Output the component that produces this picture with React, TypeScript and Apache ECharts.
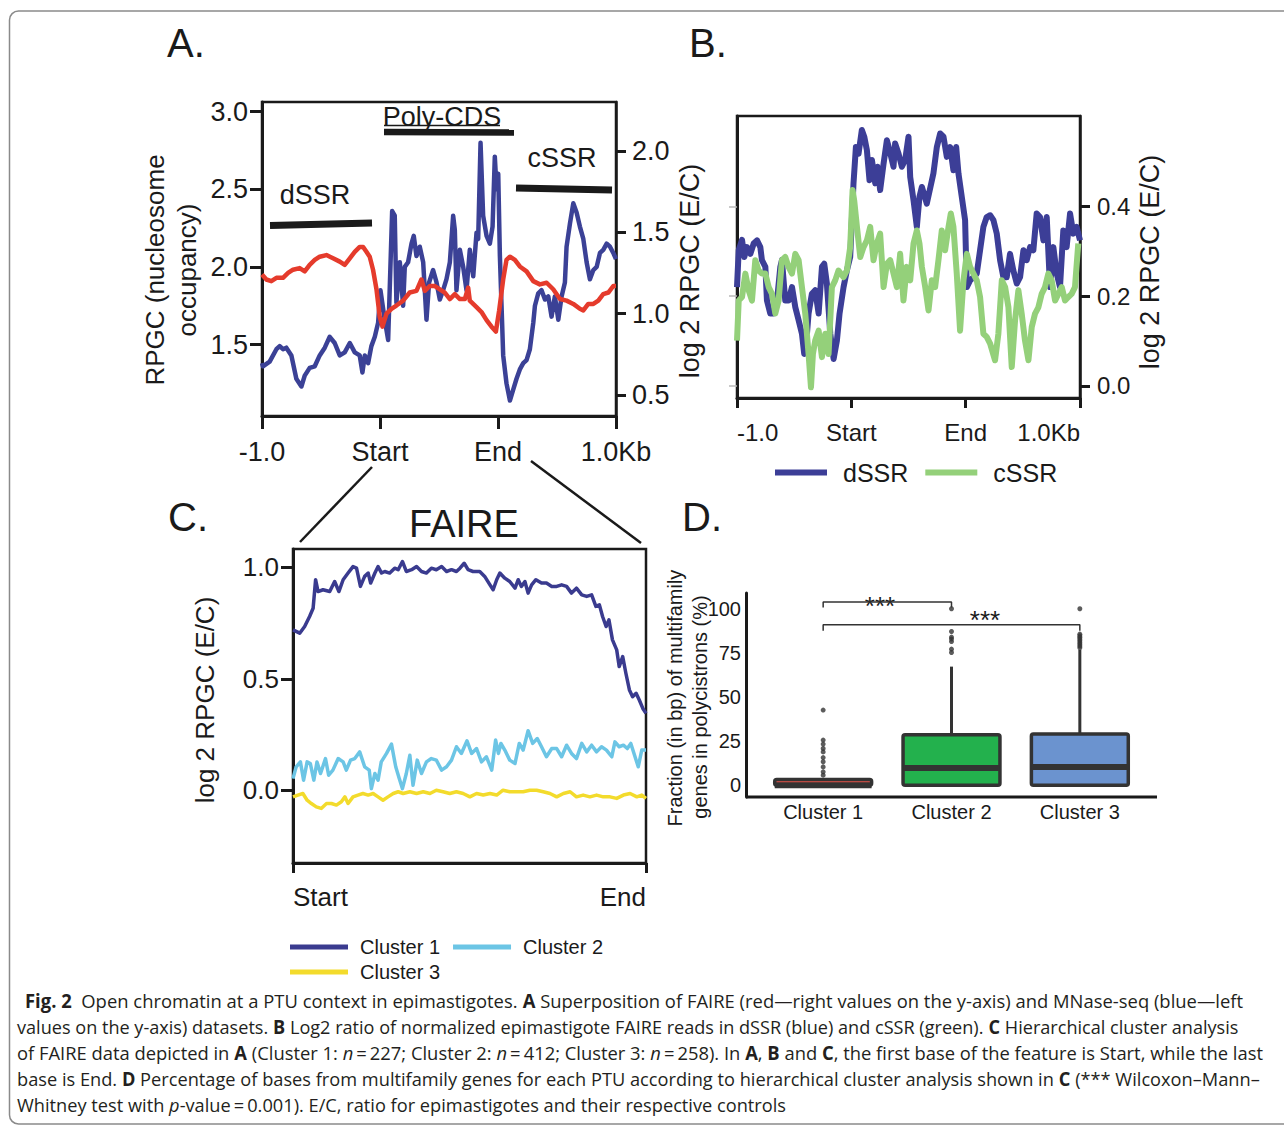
import React, { useEffect, useRef } from 'react';
import * as echarts from 'echarts';

const FONT = '"Liberation Sans", Arial, Helvetica, sans-serif';
const CAP_FONT = '"Open Sans", "Noto Sans", sans-serif';
const INK = '#1a1a1a';

// ---------- Panel A ----------
const xTickLabelsA = ['-1.0', 'Start', 'End', '1.0Kb'];
const leftTicksA = [1.5, 2.0, 2.5, 3.0];
const rightTicksA = [0.5, 1.0, 1.5, 2.0];
const mnaseA = [
  [0, 1.38], [0.8, 1.36], [6.5, 1.39], [12.2, 1.47], [15, 1.49], [17.8, 1.47], [20.6, 1.48], [24.9, 1.43],
  [29.1, 1.28], [33.4, 1.23], [36.2, 1.30], [40.4, 1.35], [44.7, 1.36], [48.9, 1.43], [53.2, 1.48], [57.4, 1.55],
  [61.6, 1.51], [65.9, 1.43], [70.1, 1.45], [74.4, 1.51], [78.6, 1.45], [82.8, 1.43], [85.1, 1.32], [87.1, 1.43],
  [89.9, 1.38], [92.7, 1.49], [95.6, 1.55], [98.4, 1.64], [100.4, 1.85], [104, 1.66], [106.9, 1.53], [110.3, 2.36],
  [112.5, 2.33], [113.9, 1.77], [116.8, 2.03], [119.6, 1.75], [121, 2.0], [123.8, 2.03], [126.7, 2.15], [128.6, 2.2],
  [130.9, 2.07], [133.7, 2.13], [136.6, 2.03], [139.4, 1.66], [141.6, 1.9], [145, 1.98], [147.9, 1.9], [150.7, 1.79],
  [153.5, 1.85], [156.3, 1.92], [159.2, 2.03], [162, 2.33], [163.4, 2.24], [164.8, 1.85], [167.7, 2.11], [170.5, 2.0],
  [173.3, 1.85], [176.1, 2.11], [179, 1.94], [181.8, 2.22], [183.2, 2.18], [185.2, 2.8], [187.4, 2.33], [190.3, 2.2],
  [193.1, 2.15], [195.4, 2.26], [197.3, 2.71], [198.8, 2.5], [200.2, 2.6], [201.6, 2.07], [203, 1.75], [204.4, 1.43],
  [207.2, 1.25], [210.1, 1.14], [212.9, 1.21], [215.7, 1.28], [218.5, 1.34], [221.4, 1.38], [224.2, 1.4], [227, 1.47],
  [229.9, 1.64], [231.3, 1.75], [234.1, 1.83], [236.9, 1.85], [239.8, 1.79], [242.6, 1.81], [245.4, 1.68], [248.2, 1.81],
  [251.1, 1.66], [253.9, 1.81], [256.7, 1.9], [258.1, 2.13], [261, 2.28], [263.8, 2.41], [266.6, 2.35], [269.4, 2.26],
  [272.3, 2.18], [275.1, 2.03], [277.9, 1.92], [280.8, 1.98], [283.6, 2.0], [286.4, 2.09], [289.2, 2.11], [292.1, 2.15],
  [294.9, 2.13], [297.7, 2.09], [300, 2.05],
];
const faireA = [
  [0, 1.24], [3.7, 1.21], [7.9, 1.2], [12.2, 1.22], [17.8, 1.22], [22.1, 1.25], [26.3, 1.27], [31.9, 1.28],
  [36.2, 1.26], [40.4, 1.3], [44.7, 1.33], [48.9, 1.35], [54.6, 1.36], [60.2, 1.34], [65.9, 1.32], [70.1, 1.3],
  [74.4, 1.34], [78.6, 1.38], [82.8, 1.41], [85.7, 1.41], [88.5, 1.38], [91.3, 1.35], [94.1, 1.27], [97, 1.15],
  [99.8, 0.98], [102.1, 0.92], [105.5, 1.0], [109.7, 1.03], [113.9, 1.05], [119.6, 1.08], [125.2, 1.13], [130.9, 1.14],
  [135.1, 1.21], [138, 1.14], [142.2, 1.17], [146.5, 1.17], [150.7, 1.15], [154.9, 1.13], [159.2, 1.09], [163.4, 1.12],
  [167.7, 1.09], [171.9, 1.09], [174.7, 1.16], [176.1, 1.08], [181.8, 1.04], [186, 1.01], [190.3, 0.96], [194.5, 0.92],
  [198.2, 0.89], [201, 1.02], [204.4, 1.21], [207.2, 1.33], [210.1, 1.35], [214.3, 1.33], [218.5, 1.29], [224.2, 1.26],
  [229.9, 1.2], [235.5, 1.18], [241.2, 1.19], [246.8, 1.15], [252.5, 1.09], [258.1, 1.08], [263.8, 1.06], [269.4, 1.03],
  [272.3, 1.02], [276.5, 1.06], [280.8, 1.06], [285, 1.08], [289.2, 1.12], [293.5, 1.13], [297.7, 1.17], [300, 1.17],
];

// ---------- Panel B ----------
const xTickLabelsB = ['-1.0', 'Start', 'End', '1.0Kb'];
const ticksB = [0, 0.2, 0.4];
const dssrB = [
  [0, 0.22], [1.5, 0.302], [4.4, 0.325], [6.4, 0.287], [8.7, 0.309], [11.7, 0.294], [14.6, 0.317], [17.5, 0.324],
  [20.4, 0.309], [21.8, 0.28], [24.8, 0.265], [26.2, 0.19], [29.1, 0.161], [32, 0.161], [35, 0.19], [37.9, 0.265],
  [39.3, 0.28], [42.2, 0.19], [45.1, 0.19], [48.1, 0.22], [51, 0.175], [53.9, 0.146], [56.8, 0.116], [58.8, 0.071],
  [61.2, 0.116], [62.6, 0.161], [65.5, 0.205], [68.4, 0.213], [71.4, 0.161], [74.3, 0.265], [76.3, 0.272], [78.6, 0.228],
  [81.6, 0.116], [84.5, 0.06], [87.4, 0.101], [89.7, 0.161], [93.2, 0.22], [96.1, 0.257], [99, 0.287], [101.9, 0.451],
  [104, 0.532], [106.3, 0.517], [109.2, 0.57], [111.3, 0.555], [113.6, 0.525], [115.9, 0.458], [118, 0.503], [120.9, 0.451],
  [122.9, 0.488], [125.2, 0.436], [128.2, 0.495], [131.1, 0.547], [133.4, 0.525], [136.9, 0.488], [138.3, 0.54], [141.3, 0.517],
  [144.2, 0.488], [147.1, 0.503], [150, 0.555], [151.5, 0.465], [154.4, 0.413], [157.3, 0.354], [159.6, 0.421], [161.7, 0.443],
  [166, 0.406], [171.8, 0.473], [174.8, 0.532], [177.7, 0.562], [180.6, 0.555], [183.5, 0.51], [186.4, 0.532], [189.3, 0.48],
  [191.7, 0.532], [193.7, 0.473], [196.6, 0.421], [199.5, 0.369], [201, 0.22], [203.9, 0.235], [206.8, 0.242], [209.7, 0.25],
  [212.6, 0.302], [215.5, 0.354], [218.4, 0.376], [221.4, 0.38], [224.3, 0.369], [227.2, 0.339], [230.1, 0.28], [233, 0.242],
  [235.9, 0.242], [238.8, 0.294], [241.7, 0.257], [244.7, 0.228], [247.6, 0.242], [250.5, 0.302], [253.4, 0.28], [256.3, 0.309],
  [259.2, 0.302], [262.1, 0.384], [265, 0.376], [268, 0.324], [270.9, 0.376], [273.8, 0.22], [276.7, 0.309], [279.6, 0.25],
  [282.5, 0.22], [285.4, 0.346], [288.3, 0.309], [291.3, 0.384], [294.2, 0.339], [297.1, 0.354], [300, 0.324],
];
const cssrB = [
  [0, 0.101], [1.5, 0.19], [4.4, 0.198], [7.3, 0.25], [10.2, 0.213], [13.1, 0.19], [16, 0.28], [18.9, 0.257],
  [21.8, 0.25], [24.8, 0.25], [27.7, 0.22], [30.6, 0.205], [33.5, 0.161], [36.4, 0.19], [39.3, 0.28], [42.2, 0.287],
  [45.1, 0.265], [48.1, 0.25], [51, 0.294], [53.9, 0.28], [56.8, 0.22], [59.7, 0.161], [62.6, 0.071], [64.7, -0.003],
  [66.4, 0.071], [68.4, 0.101], [71.4, 0.123], [74.3, 0.064], [77.2, 0.116], [80.1, 0.071], [83, 0.22], [85.9, 0.235],
  [88.8, 0.257], [93.2, 0.242], [96.1, 0.257], [99, 0.309], [101.1, 0.436], [102.5, 0.413], [104.9, 0.354], [107.8, 0.287],
  [110.7, 0.309], [113.6, 0.324], [116.5, 0.354], [119.4, 0.28], [122.3, 0.317], [125.2, 0.339], [128.2, 0.22], [131.1, 0.272],
  [134, 0.28], [136.9, 0.25], [139.8, 0.22], [142.7, 0.294], [145.6, 0.19], [148.5, 0.265], [151.5, 0.235], [154.4, 0.317],
  [157.3, 0.346], [159.6, 0.317], [161.7, 0.265], [164.6, 0.22], [167.5, 0.168], [170.4, 0.235], [173.3, 0.22], [176.2, 0.28],
  [179.1, 0.346], [182, 0.302], [185, 0.354], [187, 0.384], [189.3, 0.354], [192.2, 0.25], [195.1, 0.123], [198.1, 0.235],
  [201, 0.294], [203.9, 0.265], [206.8, 0.25], [209.7, 0.235], [212.6, 0.198], [215.5, 0.116], [218.4, 0.109], [221.4, 0.094],
  [225.7, 0.057], [228.6, 0.116], [231.6, 0.235], [234.5, 0.22], [237.4, 0.175], [240.3, 0.042], [243.2, 0.146], [246.1, 0.213],
  [249, 0.161], [251.9, 0.101], [254.9, 0.057], [257.8, 0.131], [260.7, 0.161], [263.6, 0.175], [266.5, 0.205], [269.4, 0.22],
  [272.3, 0.25], [275.2, 0.235], [278.2, 0.19], [281.1, 0.205], [284, 0.22], [286.9, 0.19], [289.8, 0.198], [292.7, 0.205],
  [295.6, 0.22], [298.5, 0.317],
];

// ---------- Panel C ----------
const xTickLabelsC = ['Start', 'End'];
const ticksC = [0, 0.5, 1.0];
const cluster1C = [
  [0, 0.72], [1.9, 0.705], [3.3, 0.735], [4.7, 0.78], [5.7, 0.817], [6.4, 0.945], [7.1, 0.892], [8.5, 0.9],
  [10.4, 0.892], [11.8, 0.937], [13, 0.892], [14.2, 0.945], [15.6, 0.975], [17, 1.004], [18, 0.997], [19.1, 0.915],
  [20.3, 0.96], [21.3, 0.975], [22, 0.93], [23.2, 0.975], [24.1, 1.004], [25.1, 0.975], [26, 0.982], [27.4, 0.975],
  [28.8, 0.997], [29.8, 0.99], [31, 1.027], [32.1, 0.982], [33.6, 0.99], [35, 1.004], [36.4, 0.982], [37.8, 0.975],
  [39.2, 0.997], [40.6, 0.99], [42.1, 1.004], [43.5, 0.982], [44.9, 0.99], [46.3, 0.982], [47.3, 0.997], [48.5, 1.019],
  [49.6, 0.99], [51, 0.982], [52.9, 0.982], [54.3, 0.96], [55.8, 0.922], [56.7, 0.9], [57.7, 0.945], [58.6, 0.975],
  [60, 0.952], [61.4, 0.937], [62.9, 0.907], [63.8, 0.945], [64.7, 0.915], [65.7, 0.937], [66.6, 0.885], [67.6, 0.922],
  [68.8, 0.945], [70.4, 0.93], [71.8, 0.93], [73.3, 0.915], [74.7, 0.915], [76.1, 0.922], [77.5, 0.915], [78.9, 0.885],
  [80.3, 0.907], [81.8, 0.877], [83.2, 0.87], [84.6, 0.877], [85.8, 0.825], [86.8, 0.832], [87.7, 0.78], [88.7, 0.735],
  [89.5, 0.765], [90.5, 0.675], [91.7, 0.63], [92.4, 0.555], [93.4, 0.6], [94.3, 0.525], [95.3, 0.45], [96.2, 0.42],
  [97.2, 0.435], [98.1, 0.405], [99.1, 0.367], [100, 0.345],
];
const cluster2C = [
  [0, 0.052], [0.9, 0.105], [2.1, 0.127], [3, 0.045], [4, 0.127], [4.9, 0.12], [5.9, 0.045], [6.8, 0.127],
  [7.8, 0.075], [9.2, 0.142], [10.1, 0.067], [11.3, 0.09], [12.8, 0.142], [14.2, 0.127], [15.1, 0.09], [16.3, 0.135],
  [17.5, 0.142], [18.9, 0.172], [20.3, 0.105], [21.6, 0.09], [22.2, 0.007], [23.2, 0.075], [24.1, 0.045], [25, 0.127],
  [26.5, 0.165], [27.9, 0.207], [29.1, 0.105], [30.1, 0.052], [31, 0.007], [32.1, 0.075], [33.1, 0.157], [34, 0.022],
  [35.2, 0.135], [36.4, 0.075], [37.8, 0.127], [39.2, 0.142], [40.6, 0.135], [42.1, 0.09], [43.5, 0.105], [44.9, 0.135],
  [46.3, 0.195], [47.7, 0.165], [49.3, 0.222], [50.6, 0.165], [52, 0.187], [53.4, 0.127], [54.8, 0.15], [56.3, 0.09],
  [57.4, 0.225], [58.2, 0.165], [58.9, 0.21], [60, 0.18], [61.4, 0.135], [62.9, 0.12], [64.1, 0.21], [65.2, 0.18],
  [66.6, 0.267], [67.9, 0.21], [69.2, 0.232], [70.4, 0.195], [71.8, 0.15], [73.3, 0.187], [74.7, 0.187], [76.1, 0.15],
  [77.5, 0.202], [78.9, 0.165], [80.3, 0.142], [81.8, 0.21], [83.2, 0.172], [84.6, 0.202], [86, 0.172], [87.4, 0.195],
  [88.8, 0.18], [90.3, 0.15], [91.2, 0.217], [92.4, 0.195], [93.6, 0.202], [94.7, 0.187], [95.7, 0.21], [96.6, 0.165],
  [97.8, 0.105], [98.8, 0.18], [100, 0.18],
];
const cluster3C = [
  [0, -0.03], [1.4, -0.022], [2.8, -0.015], [4, -0.045], [5.2, -0.06], [6.6, -0.075], [8, -0.082], [9.5, -0.06],
  [10.9, -0.06], [12.3, -0.067], [13.7, -0.052], [14.7, -0.03], [15.6, -0.06], [17, -0.03], [18.4, -0.022], [19.8, -0.015],
  [21.3, -0.022], [22.7, -0.015], [24.1, -0.03], [25.5, -0.045], [26.9, -0.03], [28.4, -0.015], [29.8, -0.007], [31.2, -0.015],
  [33.1, -0.007], [35, -0.015], [36.9, -0.007], [38.8, -0.015], [40.6, 0], [42.5, -0.007], [44.4, -0.015], [46.3, -0.007],
  [48.2, -0.015], [50.1, -0.03], [52, -0.015], [53.9, -0.022], [55.8, -0.015], [57.7, -0.022], [59.5, 0], [61.4, -0.007],
  [63.3, -0.007], [65.2, -0.007], [67.1, 0], [69, 0], [70.9, -0.007], [72.8, -0.015], [74.7, -0.03], [76.6, -0.015],
  [78.5, -0.007], [80.3, -0.03], [82.2, -0.022], [84.1, -0.03], [86, -0.022], [87.9, -0.03], [89.8, -0.03], [91.7, -0.037],
  [93.6, -0.022], [95.5, -0.015], [97.4, -0.03], [98.8, -0.022], [100, -0.037],
];

// ---------- Panel D ----------
const categoriesD = ['Cluster 1', 'Cluster 2', 'Cluster 3'];
const ticksD = [0, 25, 50, 75, 100];
// [min, Q1, median, Q3, upper whisker]
const boxStatsD = [
  [0, 0, 0, 3.3, 3.3],
  [0, 0, 9.8, 28.6, 67.2],
  [0, 0, 10.4, 29.0, 76.7],
];
const boxFillsD = ['#e8534a', '#23b14d', '#6b93cf'];
const outliersD = [
  [0, 42.6], [0, 25.6], [0, 23.3], [0, 20.8], [0, 18.9], [0, 15.7], [0, 13.3], [0, 10.4], [0, 7.6], [0, 5.7],
  [1, 100], [1, 87.1], [1, 83.9], [1, 82.8], [1, 81.4], [1, 77.1], [1, 75.2],
  [2, 100], [2, 85.6], [2, 84.6], [2, 83.7], [2, 82.7], [2, 81.8], [2, 80.8], [2, 79.9], [2, 78.9], [2, 77.9],
];
// [from category, to category, bar level, tick end level]
const bracketsD = [
  [0, 1, 103.8, 100.7],
  [0, 2, 90.9, 87.5],
];

// ---------- Caption ----------
const captionLines = [
  '{b|Fig. 2}  Open chromatin at a PTU context in epimastigotes. {b|A} Superposition of FAIRE (red—right values on the y-axis) and MNase-seq (blue—left',
  'values on the y-axis) datasets. {b|B} Log2 ratio of normalized epimastigote FAIRE reads in dSSR (blue) and cSSR (green). {b|C} Hierarchical cluster analysis',
  'of FAIRE data depicted in {b|A} (Cluster 1: {i|n}\u2009=\u2009227; Cluster 2: {i|n}\u2009=\u2009412; Cluster 3: {i|n}\u2009=\u2009258). In {b|A}, {b|B} and {b|C}, the first base of the feature is Start, while the last',
  'base is End. {b|D} Percentage of bases from multifamily genes for each PTU according to hierarchical cluster analysis shown in {b|C} (*** Wilcoxon–Mann–',
  'Whitney test with {i|p}-value\u2009=\u20090.001). E/C, ratio for epimastigotes and their respective controls',
];
const captionLeft = [25, 17, 17, 17, 17];
const captionRight = [1243, 1238, 1263, 1260, 0];
const captionY = [1000, 1026, 1052, 1078, 1104];
const CAP_SIZE = 19;

function measureCaption(line: string): number {
  const ctx = document.createElement('canvas').getContext('2d');
  if (!ctx) return 1000;
  const re = /\{(b|i)\|([^}]*)\}/g;
  let last = 0;
  let w = 0;
  let m;
  const seg = (t: string, kind: string) => {
    ctx.font = `${kind === 'i' ? 'italic ' : ''}${kind === 'b' ? 'bold ' : ''}${CAP_SIZE}px ${CAP_FONT}`;
    w += ctx.measureText(t).width;
  };
  while ((m = re.exec(line)) !== null) {
    if (m.index > last) seg(line.slice(last, m.index), '');
    seg(m[2], m[1]);
    last = m.index + m[0].length;
  }
  if (last < line.length) seg(line.slice(last), '');
  return w;
}

function txt(text: string, x: number, y: number, size: number, extra: any = {}) {
  const { align = 'left', rotation = 0, weight = 'normal', family = FONT } = extra;
  return {
    type: 'text', x, y, rotation, silent: true,
    style: { text, fontFamily: family, fontSize: size, fontWeight: weight, fill: INK, align, verticalAlign: 'middle' },
  };
}
function seg(x1: number, y1: number, x2: number, y2: number, w: number, color = INK) {
  return { type: 'line', silent: true, shape: { x1, y1, x2, y2 }, style: { stroke: color, lineWidth: w } };
}

const axisLineStyle = (w: number) => ({ show: true, onZero: false, lineStyle: { color: INK, width: w } });

function buildOption() {
  // caption scaling
  const naturals = captionLines.map(measureCaption);
  const scales = naturals.map((n, i) => (captionRight[i] ? (captionRight[i] - captionLeft[i]) / n : 0));
  const avg = (scales[1] + scales[2] + scales[3]) / 3;
  const captionGraphics = captionLines.map((line, i) => ({
    type: 'text', x: captionLeft[i], y: captionY[i], scaleX: scales[i] || avg, silent: true,
    style: {
      text: line, fontFamily: CAP_FONT, fontSize: CAP_SIZE, fill: '#231f20', align: 'left', verticalAlign: 'middle',
      rich: {
        b: { fontFamily: CAP_FONT, fontSize: CAP_SIZE, fontWeight: 'bold', fill: '#231f20' },
        i: { fontFamily: CAP_FONT, fontSize: CAP_SIZE, fontStyle: 'italic', fill: '#231f20' },
      },
    },
  }));

  const lbl = (size: number, margin: number, extra: any = {}) => ({
    fontFamily: FONT, fontSize: size, color: INK, margin, ...extra,
  });

  return {
    animation: false,
    backgroundColor: '#ffffff',
    grid: [
      { left: 262, top: 102, width: 354, height: 314, show: true, borderColor: INK, borderWidth: 2.5, backgroundColor: 'transparent' },
      { left: 737, top: 116, width: 343, height: 282, show: true, borderColor: INK, borderWidth: 2.5, backgroundColor: 'transparent' },
      { left: 293, top: 549, width: 353, height: 314, show: true, borderColor: INK, borderWidth: 2.5, backgroundColor: 'transparent' },
      { left: 759, top: 593, width: 385, height: 204, show: false },
    ],
    xAxis: [
      {
        gridIndex: 0, type: 'value', min: 0, max: 300, interval: 100,
        axisLine: axisLineStyle(3), axisTick: { show: true, length: 13, lineStyle: { color: INK, width: 3 } },
        axisLabel: lbl(27, 22, { formatter: (v: number) => xTickLabelsA[Math.round(v / 100)] }),
        splitLine: { show: false },
      },
      {
        gridIndex: 1, type: 'value', min: 0, max: 300, interval: 100,
        axisLine: axisLineStyle(3), axisTick: { show: true, length: 10, lineStyle: { color: INK, width: 3 } },
        axisLabel: lbl(24, 22, { formatter: (v: number) => xTickLabelsB[Math.round(v / 100)], alignMinLabel: 'left', alignMaxLabel: 'right' }),
        splitLine: { show: false },
      },
      {
        gridIndex: 2, type: 'value', min: 0, max: 100, interval: 100,
        axisLine: axisLineStyle(3), axisTick: { show: true, length: 10, lineStyle: { color: INK, width: 3 } },
        axisLabel: lbl(26, 21, { formatter: (v: number) => xTickLabelsC[Math.round(v / 100)], alignMinLabel: 'left', alignMaxLabel: 'right' }),
        splitLine: { show: false },
      },
      {
        gridIndex: 3, type: 'category', data: categoriesD,
        axisLine: { show: false }, axisTick: { show: false },
        axisLabel: lbl(20, 5),
        splitLine: { show: false },
      },
    ],
    yAxis: [
      {
        gridIndex: 0, type: 'value', min: 1.04, max: 3.062, position: 'left',
        axisLine: axisLineStyle(3),
        axisTick: { show: true, length: 12, customValues: leftTicksA, lineStyle: { color: INK, width: 3 } },
        axisLabel: lbl(27, 14, { customValues: leftTicksA, formatter: (v: number) => v.toFixed(1) }),
        splitLine: { show: false },
      },
      {
        gridIndex: 0, type: 'value', min: 0.371, max: 2.301, position: 'right',
        axisLine: axisLineStyle(2.5),
        axisTick: { show: true, length: 10, customValues: rightTicksA, lineStyle: { color: INK, width: 3 } },
        axisLabel: lbl(27, 16, { customValues: rightTicksA, formatter: (v: number) => v.toFixed(1) }),
        splitLine: { show: false },
      },
      {
        gridIndex: 1, type: 'value', min: -0.027, max: 0.601, position: 'left',
        axisLine: axisLineStyle(3),
        axisTick: { show: true, length: 8, customValues: ticksB, lineStyle: { color: '#b8b8b8', width: 1.5 } },
        axisLabel: { show: false },
        splitLine: { show: false },
      },
      {
        gridIndex: 1, type: 'value', min: -0.027, max: 0.601, position: 'right',
        axisLine: axisLineStyle(2.5),
        axisTick: { show: true, length: 10, customValues: ticksB, lineStyle: { color: INK, width: 3 } },
        axisLabel: lbl(24, 17, { customValues: ticksB, formatter: (v: number) => v.toFixed(1) }),
        splitLine: { show: false },
      },
      {
        gridIndex: 2, type: 'value', min: -0.327, max: 1.083, position: 'left',
        axisLine: axisLineStyle(3),
        axisTick: { show: true, length: 12, customValues: ticksC, lineStyle: { color: INK, width: 3 } },
        axisLabel: lbl(26, 14, { customValues: ticksC, formatter: (v: number) => v.toFixed(1) }),
        splitLine: { show: false },
      },
      {
        gridIndex: 3, type: 'value', min: -6.65, max: 108.9, position: 'left', offset: 13,
        axisLine: axisLineStyle(3),
        axisTick: { show: false },
        axisLabel: lbl(20, 5, { customValues: ticksD, formatter: (v: number) => String(v) }),
        splitLine: { show: false },
      },
    ],
    legend: [
      {
        data: ['dSSR', 'cSSR'], left: 770, top: 455, icon: 'rect', itemWidth: 52, itemHeight: 6, itemGap: 17,
        selectedMode: false, textStyle: { fontFamily: FONT, fontSize: 25, color: INK, padding: [0, 0, 0, 11] },
      },
      {
        data: ['Cluster 1', 'Cluster 2'], left: 285, top: 932, icon: 'rect', itemWidth: 58, itemHeight: 5, itemGap: 13,
        selectedMode: false, textStyle: { fontFamily: FONT, fontSize: 20, color: INK, padding: [0, 0, 0, 7] },
      },
      {
        data: ['Cluster 3'], left: 285, top: 957, icon: 'rect', itemWidth: 58, itemHeight: 5, itemGap: 13,
        selectedMode: false, textStyle: { fontFamily: FONT, fontSize: 20, color: INK, padding: [0, 0, 0, 7] },
      },
    ],
    series: [
      {
        type: 'line', name: 'MNase-seq', xAxisIndex: 0, yAxisIndex: 0, data: mnaseA, showSymbol: false,
        lineStyle: { color: '#3b4196', width: 4.5, join: 'round' }, itemStyle: { color: '#3b4196' },
      },
      {
        type: 'line', name: 'FAIRE', xAxisIndex: 0, yAxisIndex: 1, data: faireA, showSymbol: false,
        lineStyle: { color: '#e53b2c', width: 4.5, join: 'round' }, itemStyle: { color: '#e53b2c' },
      },
      {
        type: 'line', name: 'dSSR', xAxisIndex: 1, yAxisIndex: 3, data: dssrB, showSymbol: false,
        lineStyle: { color: '#3c3e97', width: 6, join: 'round' }, itemStyle: { color: '#3c3e97' },
      },
      {
        type: 'line', name: 'cSSR', xAxisIndex: 1, yAxisIndex: 3, data: cssrB, showSymbol: false,
        lineStyle: { color: '#94d07a', width: 6, join: 'round' }, itemStyle: { color: '#94d07a' },
      },
      {
        type: 'line', name: 'Cluster 1', xAxisIndex: 2, yAxisIndex: 4, data: cluster1C, showSymbol: false,
        lineStyle: { color: '#3a3b8f', width: 3.5, join: 'round' }, itemStyle: { color: '#3a3b8f' },
      },
      {
        type: 'line', name: 'Cluster 2', xAxisIndex: 2, yAxisIndex: 4, data: cluster2C, showSymbol: false,
        lineStyle: { color: '#6cc5e5', width: 3.5, join: 'round' }, itemStyle: { color: '#6cc5e5' },
      },
      {
        type: 'line', name: 'Cluster 3', xAxisIndex: 2, yAxisIndex: 4, data: cluster3C, showSymbol: false,
        lineStyle: { color: '#f3db2c', width: 3.5, join: 'round' }, itemStyle: { color: '#f3db2c' },
      },
      {
        type: 'custom', name: 'boxes', xAxisIndex: 3, yAxisIndex: 5,
        data: boxStatsD.map((s, i) => [i, ...s]),
        encode: { x: 0, y: [1, 2, 3, 4, 5] },
        renderItem: (params: any, api: any) => {
          const x = api.value(0);
          const pMin = api.coord([x, api.value(1)]);
          const pQ1 = api.coord([x, api.value(2)]);
          const pMed = api.coord([x, api.value(3)]);
          const pQ3 = api.coord([x, api.value(4)]);
          const pMax = api.coord([x, api.value(5)]);
          const w = api.size([1, 0])[0] * 0.755;
          const cx = pQ1[0];
          return {
            type: 'group',
            children: [
              { type: 'line', shape: { x1: cx, y1: pMax[1], x2: cx, y2: pQ3[1] }, style: { stroke: '#333', lineWidth: 3 } },
              { type: 'line', shape: { x1: cx, y1: pMin[1], x2: cx, y2: pQ1[1] }, style: { stroke: '#333', lineWidth: 3 } },
              {
                type: 'rect', shape: { x: cx - w / 2, y: pQ3[1], width: w, height: pQ1[1] - pQ3[1], r: 2 },
                style: { fill: boxFillsD[params.dataIndex], stroke: '#333', lineWidth: 3.5 },
              },
              { type: 'rect', shape: { x: cx - w / 2, y: pMed[1] - 3, width: w, height: 6 }, style: { fill: '#333' } },
            ],
          };
        },
        z: 2,
      },
      {
        type: 'scatter', name: 'outliers', xAxisIndex: 3, yAxisIndex: 5, data: outliersD,
        symbolSize: 5, itemStyle: { color: '#333' }, z: 3,
      },
      ...bracketsD.map((b, i) => ({
        type: 'line', name: 'bracket' + i, xAxisIndex: 3, yAxisIndex: 5, showSymbol: false,
        data: [[b[0], b[3]], [b[0], b[2]], [b[1], b[2]], [b[1], b[3]]],
        lineStyle: { color: '#333', width: 1.5 }, itemStyle: { color: '#333' }, z: 3,
      })),
    ],
    graphic: [
      {
        type: 'rect', silent: true, shape: { x: 9.5, y: 11, width: 1300, height: 1113, r: 9 },
        style: { fill: 'none', stroke: '#8a8a8a', lineWidth: 1.5 }, z: -1,
      },
      // panel letters
      txt('A.', 167, 43, 40),
      txt('B.', 689, 43, 40),
      txt('C.', 168, 517, 40),
      txt('D.', 682, 517, 40),
      // panel A region annotations
      txt('dSSR', 315, 195, 27, { align: 'center' }),
      seg(270, 225.5, 372, 223, 7),
      txt('Poly-CDS', 442, 117, 27, { align: 'center' }),
      seg(384, 125.5, 500, 125.5, 1.5),
      seg(384, 132, 514, 132.5, 6.5),
      txt('cSSR', 562, 158, 27, { align: 'center' }),
      seg(516, 188, 612, 190, 7),
      // axis titles
      txt('RPGC (nucleosome', 155, 270, 26, { align: 'center', rotation: Math.PI / 2 }),
      txt('occupancy)', 187, 270, 26, { align: 'center', rotation: Math.PI / 2 }),
      txt('log 2 RPGC (E/C)', 690, 271, 27, { align: 'center', rotation: Math.PI / 2 }),
      txt('log 2 RPGC (E/C)', 1150, 262, 27, { align: 'center', rotation: Math.PI / 2 }),
      txt('log 2 RPGC (E/C)', 205, 700, 26, { align: 'center', rotation: Math.PI / 2 }),
      txt('Fraction (in bp) of multifamily', 675, 698, 20, { align: 'center', rotation: Math.PI / 2 }),
      txt('genes in polycistrons (%)', 700, 707, 20, { align: 'center', rotation: Math.PI / 2 }),
      // zoom lines from A to C
      seg(372, 467, 300, 542, 2.5),
      seg(531, 461, 641, 543, 2.5),
      // FAIRE title
      txt('FAIRE', 464, 524, 38, { align: 'center' }),
      // panel D x axis line and significance stars
      seg(746, 797, 1157, 797, 3),
      txt('***', 880, 606, 26, { align: 'center' }),
      txt('***', 985, 620, 26, { align: 'center' }),
      ...captionGraphics,
    ],
  };
}

export default function App() {
  const ref = useRef<HTMLDivElement>(null);
  useEffect(() => {
    if (!ref.current) return;
    const chart = echarts.init(ref.current, undefined, { renderer: 'svg' });
    chart.setOption(buildOption() as any);
    return () => chart.dispose();
  }, []);
  return (
    <div
      ref={ref}
      style={{ position: 'absolute', left: 0, top: 0, width: 1284, height: 1126, background: '#fff' }}
    />
  );
}
